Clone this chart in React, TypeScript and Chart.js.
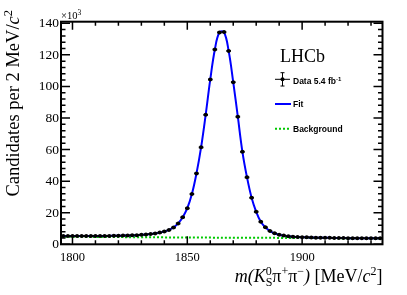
import { useEffect, useRef } from 'react';
import { Chart, registerables } from 'chart.js';
Chart.register(...registerables);

const massBins = [
  1796, 1798, 1800, 1802, 1804, 1806, 1808, 1810, 1812, 1814,
  1816, 1818, 1820, 1822, 1824, 1826, 1828, 1830, 1832, 1834,
  1836, 1838, 1840, 1842, 1844, 1846, 1848, 1850, 1852, 1854,
  1856, 1858, 1860, 1862, 1864, 1866, 1868, 1870, 1872, 1874,
  1876, 1878, 1880, 1882, 1884, 1886, 1888, 1890, 1892, 1894,
  1896, 1898, 1900, 1902, 1904, 1906, 1908, 1910, 1912, 1914,
  1916, 1918, 1920, 1922, 1924, 1926, 1928, 1930, 1932, 1934,
];
// candidates per bin, in units of 10^3
const candidates = [
  5.2, 5.2, 5.2, 5.2, 5.2, 5.2, 5.2, 5.3, 5.3, 5.3,
  5.3, 5.4, 5.4, 5.5, 5.6, 5.7, 5.8, 6.0, 6.2, 6.5,
  6.9, 7.4, 8.1, 9.0, 10.6, 13.2, 17.1, 22.8, 31.8, 44.9,
  61.4, 82.0, 104.4, 123.4, 134.2, 134.4, 122.5, 102.7, 80.8, 58.6,
  42.4, 29.5, 20.6, 14.3, 10.8, 8.4, 7.0, 6.1, 5.5, 5.1,
  4.8, 4.6, 4.5, 4.4, 4.3, 4.2, 4.2, 4.1, 4.1, 4.0,
  4.0, 4.0, 3.9, 3.9, 3.9, 3.9, 3.8, 3.8, 3.8, 3.8,
];
const fitValues = [
  5.2, 5.2, 5.2, 5.2, 5.2, 5.2, 5.2, 5.3, 5.3, 5.3,
  5.3, 5.4, 5.4, 5.5, 5.6, 5.7, 5.8, 6.0, 6.2, 6.5,
  6.9, 7.4, 8.1, 9.1, 10.7, 13.3, 17.2, 22.9, 31.8, 44.9,
  61.4, 82.0, 104.4, 123.4, 134.3, 134.3, 122.5, 102.7, 80.8, 58.6,
  42.4, 29.5, 20.6, 14.3, 10.8, 8.4, 7.0, 6.1, 5.5, 5.1,
  4.8, 4.6, 4.5, 4.4, 4.3, 4.2, 4.2, 4.1, 4.1, 4.0,
  4.0, 4.0, 3.9, 3.9, 3.9, 3.9, 3.8, 3.8, 3.8, 3.8,
];
const bgMass = [1795, 1850, 1900, 1935];
const bgValues = [4.8, 4.3, 4.0, 3.75];

const xMajorTicks = [1800, 1850, 1900];
const xTickLabels = ['1800', '1850', '1900'];
const yMajorTicks = [0, 20, 40, 60, 80, 100, 120, 140];
const yTickLabels = ['0', '20', '40', '60', '80', '100', '120', '140'];

const X_MIN = 1795, X_MAX = 1935, Y_MIN = 0, Y_MAX = 141;
const SERIF = '"Liberation Serif", "Times New Roman", serif';
const SANS = '"Liberation Sans", Arial, sans-serif';

type Run = { t: string; f: string; dy?: number; sub?: { t: string; f: string; dy: number } };

function runsWidth(ctx: CanvasRenderingContext2D, runs: Run[]) {
  return runs.map((r) => {
    ctx.font = r.f;
    let w = ctx.measureText(r.t).width;
    if (r.sub) {
      ctx.font = r.sub.f;
      w = Math.max(w, ctx.measureText(r.sub.t).width);
    }
    return w;
  });
}

function drawRuns(ctx: CanvasRenderingContext2D, runs: Run[], x: number, y: number, align: 'left' | 'right') {
  const ws = runsWidth(ctx, runs);
  const total = ws.reduce((a, b) => a + b, 0);
  let cx = align === 'right' ? x - total : x;
  ctx.textAlign = 'left';
  ctx.textBaseline = 'alphabetic';
  runs.forEach((r, i) => {
    ctx.font = r.f;
    ctx.fillText(r.t, cx, y + (r.dy || 0));
    if (r.sub) {
      ctx.font = r.sub.f;
      ctx.fillText(r.sub.t, cx, y + r.sub.dy);
    }
    cx += ws[i];
  });
}

const decor = {
  id: 'decor',
  afterDatasetsDraw(chart: any) {
    const { ctx, scales } = chart;
    const x = scales.x, y = scales.y;
    ctx.save();
    ctx.strokeStyle = '#000';
    ctx.lineWidth = 2;
    massBins.forEach((m, i) => {
      const py = y.getPixelForValue(candidates[i]);
      ctx.beginPath();
      ctx.moveTo(x.getPixelForValue(m - 1), py);
      ctx.lineTo(x.getPixelForValue(m + 1), py);
      ctx.stroke();
    });
    ctx.restore();
  },
  afterDraw(chart: any) {
    const { ctx, chartArea: a, scales } = chart;
    const x = scales.x, y = scales.y;
    ctx.save();
    ctx.fillStyle = '#000';
    ctx.strokeStyle = '#000';
    // ticks
    ctx.lineWidth = 1.5;
    const tick = (px: number, len: number, vertical: boolean) => {
      ctx.beginPath();
      if (vertical) {
        ctx.moveTo(px, a.bottom); ctx.lineTo(px, a.bottom - len);
        ctx.moveTo(px, a.top); ctx.lineTo(px, a.top + len);
      } else {
        ctx.moveTo(a.left, px); ctx.lineTo(a.left + len, px);
        ctx.moveTo(a.right, px); ctx.lineTo(a.right - len, px);
      }
      ctx.stroke();
    };
    for (let v = 1800; v <= X_MAX; v += 10) {
      const major = xMajorTicks.includes(v);
      tick(x.getPixelForValue(v), major ? 8 : 4, true);
    }
    for (let v = 0; v <= Y_MAX; v += 4) {
      const major = yMajorTicks.includes(v);
      tick(y.getPixelForValue(v), major ? 9 : 4.5, false);
    }
    // frame
    ctx.lineWidth = 2;
    ctx.strokeRect(a.left, a.top, a.right - a.left, a.bottom - a.top);

    // tick labels
    ctx.font = `12.5px ${SERIF}`;
    ctx.textAlign = 'center';
    ctx.textBaseline = 'top';
    xMajorTicks.forEach((v, i) => ctx.fillText(xTickLabels[i], x.getPixelForValue(v), a.bottom + 7));
    ctx.font = `13.5px ${SERIF}`;
    ctx.textAlign = 'right';
    ctx.textBaseline = 'middle';
    yMajorTicks.forEach((v, i) => ctx.fillText(yTickLabels[i], a.left - 2, y.getPixelForValue(v) + 0.5));

    // x10^3
    drawRuns(ctx, [
      { t: '×10', f: `10.5px ${SERIF}` },
      { t: '3', f: `7.5px ${SERIF}`, dy: -4 },
    ], a.left, 18.5, 'left');

    // x title
    const T = 18;
    const S = 12;
    drawRuns(ctx, [
      { t: 'm(', f: `italic ${T}px ${SERIF}` },
      { t: 'K', f: `italic ${T}px ${SERIF}` },
      { t: '0', f: `${S}px ${SERIF}`, dy: -7, sub: { t: 'S', f: `${S}px ${SERIF}`, dy: 4 } },
      { t: 'π', f: `${T}px ${SERIF}` },
      { t: '+', f: `${S}px ${SERIF}`, dy: -7 },
      { t: 'π', f: `${T}px ${SERIF}` },
      { t: '−', f: `${S}px ${SERIF}`, dy: -7 },
      { t: ') ', f: `italic ${T}px ${SERIF}` },
      { t: '[MeV/', f: `${T}px ${SERIF}` },
      { t: 'c', f: `italic ${T}px ${SERIF}` },
      { t: '2', f: `${S}px ${SERIF}`, dy: -7 },
      { t: ']', f: `${T}px ${SERIF}` },
    ], a.right, 281.5, 'right');

    // y title
    ctx.save();
    ctx.translate(19, 10);
    ctx.rotate(-Math.PI / 2);
    drawRuns(ctx, [
      { t: 'Candidates per 2 MeV/', f: `18.5px ${SERIF}` },
      { t: 'c', f: `italic 18.5px ${SERIF}` },
      { t: '2', f: `12.5px ${SERIF}`, dy: -7.5 },
    ], 0, 0, 'right');
    ctx.restore();

    // LHCb label
    ctx.font = `18px ${SERIF}`;
    ctx.textAlign = 'left';
    ctx.textBaseline = 'alphabetic';
    ctx.fillText('LHCb', 280, 61.7);

    // legend
    const lx0 = 275, lx1 = 291, tx = 293;
    // data entry
    const dyc = 79.3;
    ctx.lineWidth = 1;
    ctx.beginPath();
    ctx.moveTo(lx0, dyc); ctx.lineTo(lx1 - 1, dyc);
    ctx.moveTo(282.5, 72.7); ctx.lineTo(282.5, 86);
    ctx.moveTo(280.5, 72.7); ctx.lineTo(284.5, 72.7);
    ctx.moveTo(280.5, 86); ctx.lineTo(284.5, 86);
    ctx.stroke();
    ctx.beginPath();
    ctx.arc(282.5, dyc, 2, 0, Math.PI * 2);
    ctx.fill();
    ctx.textBaseline = 'alphabetic';
    drawRuns(ctx, [
      { t: 'Data 5.4 fb', f: `bold 8.5px ${SANS}` },
      { t: '-1', f: `bold 6px ${SANS}`, dy: -3.5 },
    ], tx, 84.3, 'left');
    // fit entry
    ctx.strokeStyle = '#0000ff';
    ctx.lineWidth = 2;
    ctx.beginPath();
    ctx.moveTo(lx0, 104); ctx.lineTo(lx1, 104);
    ctx.stroke();
    ctx.fillStyle = '#000';
    drawRuns(ctx, [{ t: 'Fit', f: `bold 8.5px ${SANS}` }], tx, 107, 'left');
    // background entry
    ctx.strokeStyle = '#00c800';
    ctx.setLineDash([2, 2]);
    ctx.beginPath();
    ctx.moveTo(lx0, 128.7); ctx.lineTo(lx1, 128.7);
    ctx.stroke();
    ctx.setLineDash([]);
    drawRuns(ctx, [{ t: 'Background', f: `bold 8.5px ${SANS}` }], tx, 131.7, 'left');
    ctx.restore();
  },
};

export default function App() {
  const ref = useRef<HTMLCanvasElement>(null);
  useEffect(() => {
    document.body.style.margin = '0';
    const canvas = ref.current!;
    const chart = new Chart(canvas, {
      type: 'line',
      data: {
        datasets: [
          {
            label: 'Data',
            data: massBins.map((m, i) => ({ x: m, y: candidates[i] })),
            showLine: false,
            pointRadius: 2,
            pointBackgroundColor: '#000',
            pointBorderColor: '#000',
            pointBorderWidth: 0,
            order: 0,
          },
          {
            label: 'Fit',
            data: massBins.map((m, i) => ({ x: m, y: fitValues[i] })),
            borderColor: '#0000ff',
            borderWidth: 2,
            pointRadius: 0,
            tension: 0.4,
            fill: false,
            order: 1,
          },
          {
            label: 'Background',
            data: bgMass.map((m, i) => ({ x: m, y: bgValues[i] })),
            borderColor: '#00c800',
            borderWidth: 2,
            borderDash: [2, 2],
            pointRadius: 0,
            tension: 0.3,
            fill: false,
            order: 2,
          },
        ],
      },
      options: {
        responsive: false,
        animation: false,
        layout: { padding: { left: 61, right: 24.5, top: 21.7, bottom: 50.7 } },
        scales: {
          x: { type: 'linear', min: X_MIN, max: X_MAX, display: false },
          y: { type: 'linear', min: Y_MIN, max: Y_MAX, display: false },
        },
        plugins: { legend: { display: false }, tooltip: { enabled: false } },
      },
      plugins: [decor],
    });
    return () => chart.destroy();
  }, []);
  return <canvas ref={ref} width={407} height={295} style={{ display: 'block' }} />;
}
